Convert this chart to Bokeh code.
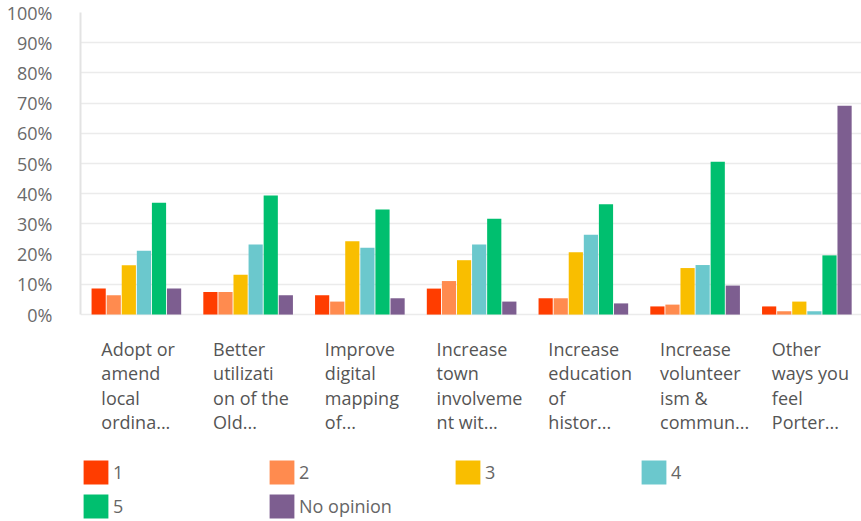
from bokeh.plotting import figure
from bokeh.models import (Range1d, Legend, LegendItem, Label, ColumnDataSource,
                          PrintfTickFormatter, FixedTicker)
from bokeh.transform import dodge
from bokeh.embed import file_html
from bokeh.resources import INLINE

# ---- data ----
categories = [
    "Adopt or amend local ordina...",
    "Better utilization of the Old...",
    "Improve digital mapping of...",
    "Increase town involvement wit...",
    "Increase education of histor...",
    "Increase volunteerism & commun...",
    "Other ways you feel Porter...",
]
label_lines = [
    ["Adopt or", "amend", "local", "ordina..."],
    ["Better", "utilizati", "on of the", "Old..."],
    ["Improve", "digital", "mapping", "of..."],
    ["Increase", "town", "involveme", "nt wit..."],
    ["Increase", "education", "of", "histor..."],
    ["Increase", "volunteer", "ism &", "commun..."],
    ["Other", "ways you", "feel", "Porter..."],
]
series_names = ["1", "2", "3", "4", "5", "No opinion"]
s1 = [8.6, 7.5, 6.4, 8.6, 5.4, 2.7, 2.7]
s2 = [6.4, 7.5, 4.3, 11.1, 5.4, 3.3, 1.1]
s3 = [16.3, 13.2, 24.3, 18.0, 20.6, 15.4, 4.3]
s4 = [21.1, 23.2, 22.1, 23.2, 26.4, 16.4, 1.1]
s5 = [37.0, 39.4, 34.8, 31.7, 36.5, 50.6, 19.6]
s_no = [8.6, 6.4, 5.4, 4.3, 3.7, 9.6, 69.1]
y_ticks = [0, 10, 20, 30, 40, 50, 60, 70, 80, 90, 100]

colors = ["#FF3D00", "#FF8B4F", "#F9BE00", "#6BC8CD", "#00BF6F", "#7D5E90"]
keys = ["s1", "s2", "s3", "s4", "s5", "sno"]

# category centres on a numeric axis (one unit per category)
xc = [i + 0.5 for i in range(len(categories))]
src = ColumnDataSource(dict(cat=categories, xc=xc, s1=s1, s2=s2, s3=s3, s4=s4, s5=s5, sno=s_no))

FONT = "Open Sans"

p = figure(x_range=Range1d(0, 6.989), y_range=Range1d(-68.5, 100),
           width=861, height=521, output_backend="svg", toolbar_location=None,
           min_border_left=80, min_border_right=0, min_border_top=12,
           min_border_bottom=0)
p.outline_line_color = None
p.background_fill_color = "white"
p.border_fill_color = "white"

step = 0.135
renderers = []
for i, k in enumerate(keys):
    r = p.vbar(x=dodge("xc", (i - 2.5) * step), top=k, width=0.127,
               source=src, fill_color=colors[i], line_color=None)
    renderers.append(r)

p.xaxis.visible = False
p.xgrid.grid_line_color = None
p.ygrid.ticker = FixedTicker(ticks=y_ticks)
p.ygrid.grid_line_color = "#EBEBEB"
p.ygrid.grid_line_width = 1.5
p.yaxis.ticker = FixedTicker(ticks=y_ticks)
p.yaxis.bounds = (0, 100)
p.yaxis.formatter = PrintfTickFormatter(format="%d%%")
p.yaxis.major_tick_line_color = None
p.yaxis.minor_tick_line_color = None
p.yaxis.axis_line_color = "#E3E3E3"
p.yaxis.axis_line_width = 2
p.yaxis.major_label_standoff = 22
p.yaxis.major_label_text_font = FONT
p.yaxis.major_label_text_font_size = "18px"
p.yaxis.major_label_text_color = "#6A6A6A"

for i, lines in enumerate(label_lines):
    p.add_layout(Label(x=xc[i], y=-7.3, x_offset=-35, text="\n".join(lines),
                       text_align="left", text_baseline="top",
                       text_font=FONT, text_font_size="18px", text_color="#555555",
                       text_line_height=1.02))

legend = Legend(items=[LegendItem(label=n, renderers=[r]) for n, r in zip(series_names, renderers)],
                location=(0, 0), orientation="horizontal", ncols=4,
                glyph_width=31, glyph_height=30, label_standoff=2, label_width=149,
                label_height=20, spacing=4, padding=0, margin=0,
                border_line_color=None, background_fill_alpha=0,
                label_text_font=FONT, label_text_font_size="18px",
                label_text_color="#666666")
p.add_layout(legend)

open("out.html", "w").write(file_html(p, INLINE))
